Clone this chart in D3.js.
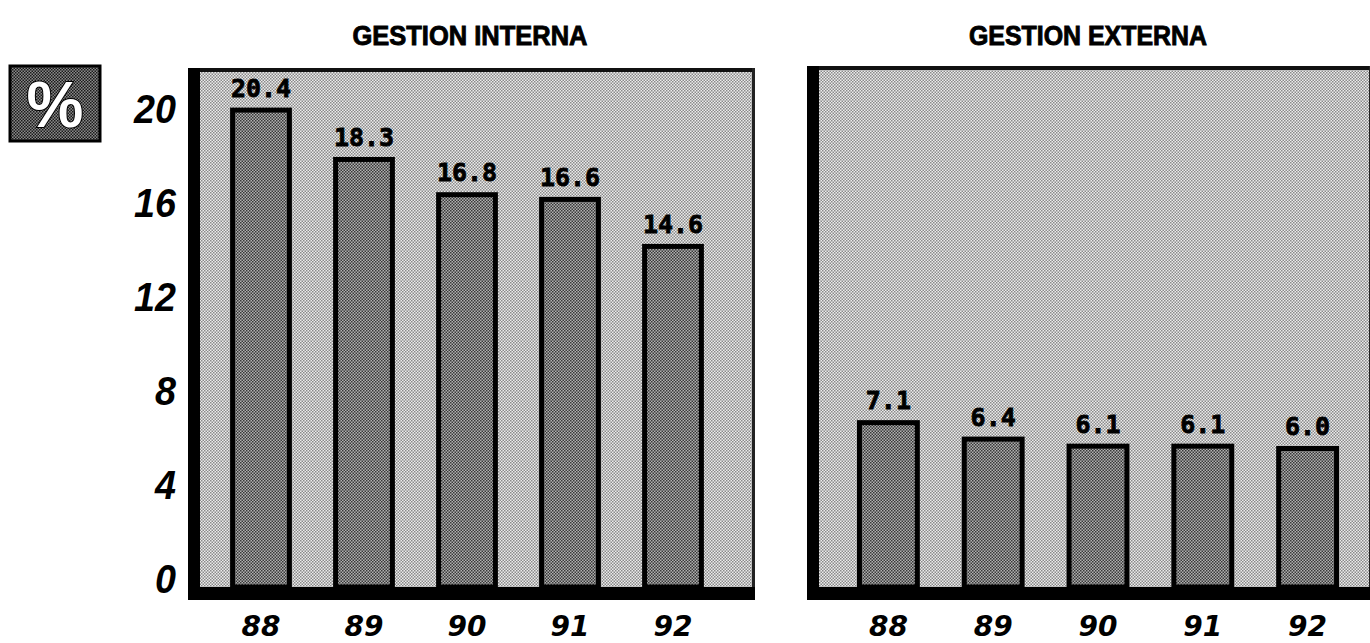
<!DOCTYPE html>
<html><head><meta charset="utf-8">
<script src="https://cdn.jsdelivr.net/npm/d3@7"></script>
<style>html,body{margin:0;padding:0;background:#fff;}svg{display:block;}</style>
</head><body>
<svg id="c" width="1370" height="643"></svg>
<script>
const years = ["88","89","90","91","92"];
const interna = [20.4, 18.3, 16.8, 16.6, 14.6];
const externa = [7.1, 6.4, 6.1, 6.1, 6.0];
const yTicks = [0, 4, 8, 12, 16, 20];
const titles = ["GESTION INTERNA", "GESTION EXTERNA"];
const unitLabel = "%";

const svg = d3.select("#c");
const defs = svg.append("defs");
function checker(id, a, b) {
  const p = defs.append("pattern").attr("id", id).attr("width", 3).attr("height", 3)
    .attr("patternUnits", "userSpaceOnUse");
  p.append("rect").attr("width", 3).attr("height", 3).attr("fill", b);
  p.append("rect").attr("x", 0).attr("y", 0).attr("width", 1.5).attr("height", 1.5).attr("fill", a);
  p.append("rect").attr("x", 1.5).attr("y", 1.5).attr("width", 1.5).attr("height", 1.5).attr("fill", a);
}
checker("bg", "#8a8a8a", "#ececec");
checker("bar", "#383838", "#b0b0b0");
checker("pct", "#1a1a1a", "#8a8a8a");

const base = 587;
const y = d3.scaleLinear().domain([0, 20]).range([base, base - 20 * 23.5]);

const panels = [
  {data: interna, title: titles[0], x0: 188, x1: 755, top: 68, range: [209.5, 724.5], tx: 470, th: 235},
  {data: externa, title: titles[1], x0: 807, x1: 1372, top: 66, range: [836, 1360], tx: 1088, th: 238}
];

panels.forEach(P => {
  const g = svg.append("g");
  g.append("rect").attr("x", P.x0).attr("y", P.top).attr("width", P.x1 - P.x0).attr("height", base - P.top)
    .attr("fill", "url(#bg)");
  g.append("rect").attr("x", P.x0).attr("y", P.top).attr("width", P.x1 - P.x0).attr("height", 4).attr("fill", "#111");
  g.append("rect").attr("x", P.x0).attr("y", P.top).attr("width", 12).attr("height", 600 - P.top).attr("fill", "#000");
  g.append("rect").attr("x", P.x1 - 3).attr("y", P.top).attr("width", 3).attr("height", 600 - P.top).attr("fill", "#222");
  g.append("rect").attr("x", P.x0).attr("y", base).attr("width", P.x1 - P.x0).attr("height", 13).attr("fill", "#000");

  const x = d3.scaleBand().domain(years).range(P.range).paddingInner(0.4).paddingOuter(0.2);
  const bars = g.selectAll(".b").data(P.data).enter();
  bars.append("rect")
    .attr("x", (d, i) => x(years[i]) + 2.5)
    .attr("y", d => y(d) + 2.5)
    .attr("width", x.bandwidth() - 5)
    .attr("height", d => base - y(d) - 2.5)
    .attr("fill", "url(#bar)").attr("stroke", "#000").attr("stroke-width", 5);
  bars.append("text")
    .attr("x", (d, i) => x(years[i]) + x.bandwidth() / 2)
    .attr("y", d => y(d) - 11)
    .attr("text-anchor", "middle")
    .attr("font-family", "DejaVu Sans Mono").attr("font-weight", "bold").attr("font-size", 25)
    .attr("fill", "#000").attr("stroke", "#000").attr("stroke-width", 0.8)
    .text(d => d.toFixed(1));

  const xa = d3.axisBottom(x).tickSize(0).tickPadding(0);
  const ag = g.append("g").attr("transform", "translate(0,636)").call(xa);
  ag.select(".domain").remove();
  ag.selectAll("text").attr("font-family", "DejaVu Sans").attr("font-weight", "bold")
    .attr("font-style", "italic").attr("font-size", 28).attr("fill", "#000").attr("dy", "0");

  g.append("text").attr("x", P.tx).attr("y", 45).attr("text-anchor", "middle")
    .attr("font-family", "Liberation Sans").attr("font-weight", "bold").attr("font-size", 27)
    .attr("stroke", "#000").attr("stroke-width", 0.9)
    .attr("textLength", P.th).attr("lengthAdjust", "spacingAndGlyphs")
    .text(P.title);
});

const ya = d3.axisLeft(y).tickValues(yTicks).tickSize(0).tickPadding(0).tickFormat(d3.format("d"));
const yg = svg.append("g").attr("transform", "translate(176,-9)").call(ya);
yg.select(".domain").remove();
yg.selectAll("text").attr("font-family", "Liberation Sans").attr("font-weight", "bold")
  .attr("font-style", "italic").attr("font-size", 41).attr("fill", "#000")
  .attr("transform", "scale(0.92,1)").attr("dy", "0.36em");

svg.append("rect").attr("x", 10).attr("y", 66).attr("width", 90).attr("height", 75)
  .attr("fill", "url(#pct)").attr("stroke", "#000").attr("stroke-width", 3);
svg.append("text").attr("x", 55).attr("y", 104).attr("text-anchor", "middle").attr("dy", "0.36em")
  .attr("font-family", "Liberation Sans").attr("font-weight", "bold").attr("font-size", 64)
  .attr("fill", "#fff").attr("stroke", "#000").attr("stroke-width", 2).attr("paint-order", "stroke")
  .text(unitLabel);
</script>
</body></html>
